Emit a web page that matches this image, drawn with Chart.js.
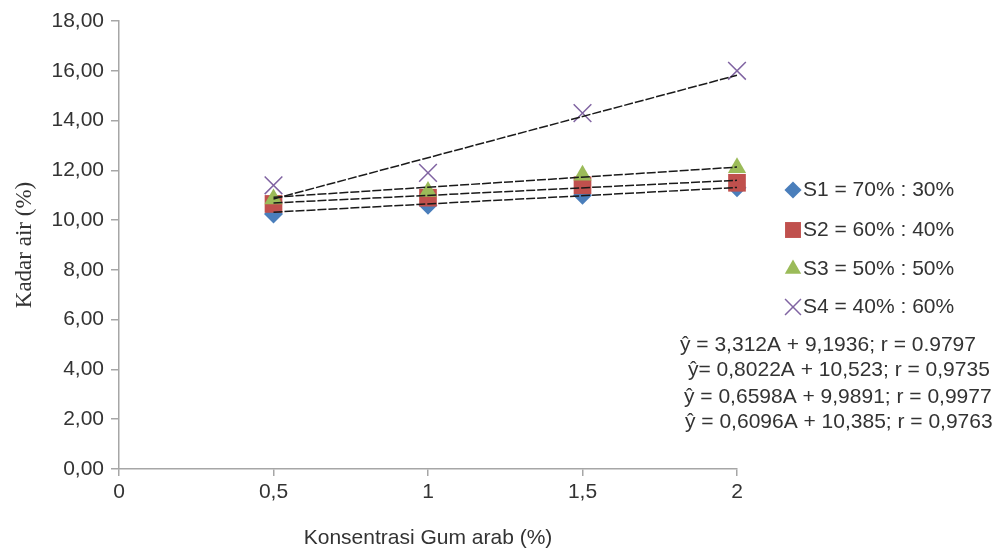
<!DOCTYPE html>
<html>
<head>
<meta charset="utf-8">
<script src="https://cdn.jsdelivr.net/npm/chart.js@4"></script>
<style>
  body { margin: 0; background: #fff; }
</style>
</head>
<body>
<canvas id="kadarAirChart" width="995" height="551"></canvas>
<script>
// konsentrasi gum arab (%)
const gumArab = [0.5, 1, 1.5, 2];

// kadar air (%) per perlakuan
const s1 = [10.25, 10.6, 11.0, 11.3];
const s2 = [10.65, 10.9, 11.4, 11.5];
const s3 = [10.85, 11.15, 11.8, 12.1];
const s4 = [11.4, 11.9, 14.3, 16.0];

// garis trend (ujung kiri & kanan)
const trendX = [0.5, 2];
const trendS1 = [10.32, 11.31];
const trendS2 = [10.69, 11.60];
const trendS3 = [10.92, 12.13];
const trendS4 = [10.85, 15.82];

const seriesNames = ['S1 = 70% : 30%', 'S2 = 60% : 40%', 'S3 = 50% : 50%', 'S4 = 40% : 60%'];
const equations = [
    'ŷ = 3,312A + 9,1936; r = 0.9797',
    'ŷ= 0,8022A + 10,523; r = 0,9735',
    'ŷ = 0,6598A + 9,9891; r = 0,9977',
    'ŷ = 0,6096A + 10,385; r = 0,9763'
];

const FONT = 'Liberation Sans, Arial, sans-serif';

const markers = [
    {pointStyle: 'rectRot', radius: 9.5, color: '#4a7ebb', borderWidth: 0},
    {pointStyle: 'rect', radius: 12.5, color: '#c0504d', borderWidth: 0},
    {pointStyle: 'triangle', radius: 10.5, color: '#9bbb59', borderWidth: 0},
    {pointStyle: 'crossRot', radius: 12.5, color: '#8064a2', borderWidth: 1.5}
];

function toPoints(xs, ys) {
    return xs.map((x, i) => ({x: x, y: ys[i]}));
}

const seriesData = [s1, s2, s3, s4];
const trendData = [trendS1, trendS2, trendS3, trendS4];

const datasets = [];
trendData.forEach(function(t, i) {
    datasets.push({
        label: 'trend ' + (i + 1),
        data: toPoints(trendX, t),
        showLine: true,
        borderColor: '#1a1a1a',
        borderWidth: 1.5,
        borderDash: [9, 2],
        pointRadius: 0,
        clip: false,
        order: 0
    });
});
seriesData.forEach(function(s, i) {
    const m = markers[i];
    datasets.push({
        label: seriesNames[i],
        data: toPoints(gumArab, s),
        showLine: false,
        pointStyle: m.pointStyle,
        pointRadius: m.radius,
        backgroundColor: m.color,
        borderColor: m.color,
        pointBorderWidth: m.borderWidth,
        clip: false,
        order: 4 - i
    });
});

const legendPlugin = {
    id: 'sideLegend',
    afterDraw: function(chart) {
        const ctx = chart.ctx;
        const rowY = [190, 230, 269, 307];
        ctx.save();
        ctx.font = '21px ' + FONT;
        ctx.textBaseline = 'middle';
        ctx.textAlign = 'left';
        seriesNames.forEach(function(name, i) {
            const m = markers[i];
            ctx.fillStyle = m.color;
            ctx.strokeStyle = m.color;
            ctx.lineWidth = m.borderWidth;
            Chart.helpers.drawPoint(ctx, {
                pointStyle: m.pointStyle,
                radius: m.radius * 0.9,
                rotation: 0,
                borderWidth: m.borderWidth
            }, 793, rowY[i]);
            ctx.fillStyle = '#333';
            ctx.fillText(name, 803, rowY[i]);
        });
        const eqX = [680, 688, 684, 685];
        const eqY = [345, 370, 397, 422];
        ctx.fillStyle = '#333';
        equations.forEach(function(eq, i) {
            ctx.fillText(eq, eqX[i], eqY[i]);
        });
        ctx.restore();
    }
};

new Chart(document.getElementById('kadarAirChart'), {
    type: 'scatter',
    data: { datasets: datasets },
    options: {
        responsive: false,
        animation: false,
        layout: { padding: { top: 21, right: 258, bottom: 0, left: 0 } },
        plugins: {
            legend: { display: false },
            tooltip: { enabled: false }
        },
        scales: {
            x: {
                type: 'linear',
                min: 0,
                max: 2,
                afterFit: function(scale) { scale.height = 82; },
                ticks: {
                    stepSize: 0.5,
                    padding: 4,
                    color: '#333',
                    font: { family: FONT, size: 21 },
                    callback: v => String(v).replace('.', ',')
                },
                grid: {
                    drawOnChartArea: false,
                    drawTicks: true,
                    tickLength: 7,
                    color: '#a6a6a6',
                    lineWidth: 1.5
                },
                border: { color: '#a6a6a6', width: 1.5 },
                title: {
                    display: true,
                    text: 'Konsentrasi Gum arab (%)',
                    color: '#333',
                    font: { family: FONT, size: 21, lineHeight: 1 },
                    padding: { top: 0, bottom: 2 }
                }
            },
            y: {
                min: 0,
                max: 18,
                afterFit: function(scale) { scale.width = 119; },
                ticks: {
                    stepSize: 2,
                    padding: 7,
                    color: '#333',
                    font: { family: FONT, size: 21 },
                    callback: v => v.toFixed(2).replace('.', ',')
                },
                grid: {
                    drawOnChartArea: false,
                    drawTicks: true,
                    tickLength: 8,
                    color: '#a6a6a6',
                    lineWidth: 1.5
                },
                border: { color: '#a6a6a6', width: 1.5 },
                title: {
                    display: true,
                    text: 'Kadar air (%)',
                    color: '#333',
                    font: { family: 'Liberation Serif, Times New Roman, serif', size: 23, lineHeight: 1 },
                    padding: { top: 13, bottom: 0 }
                }
            }
        }
    },
    plugins: [legendPlugin]
});
</script>
</body>
</html>
